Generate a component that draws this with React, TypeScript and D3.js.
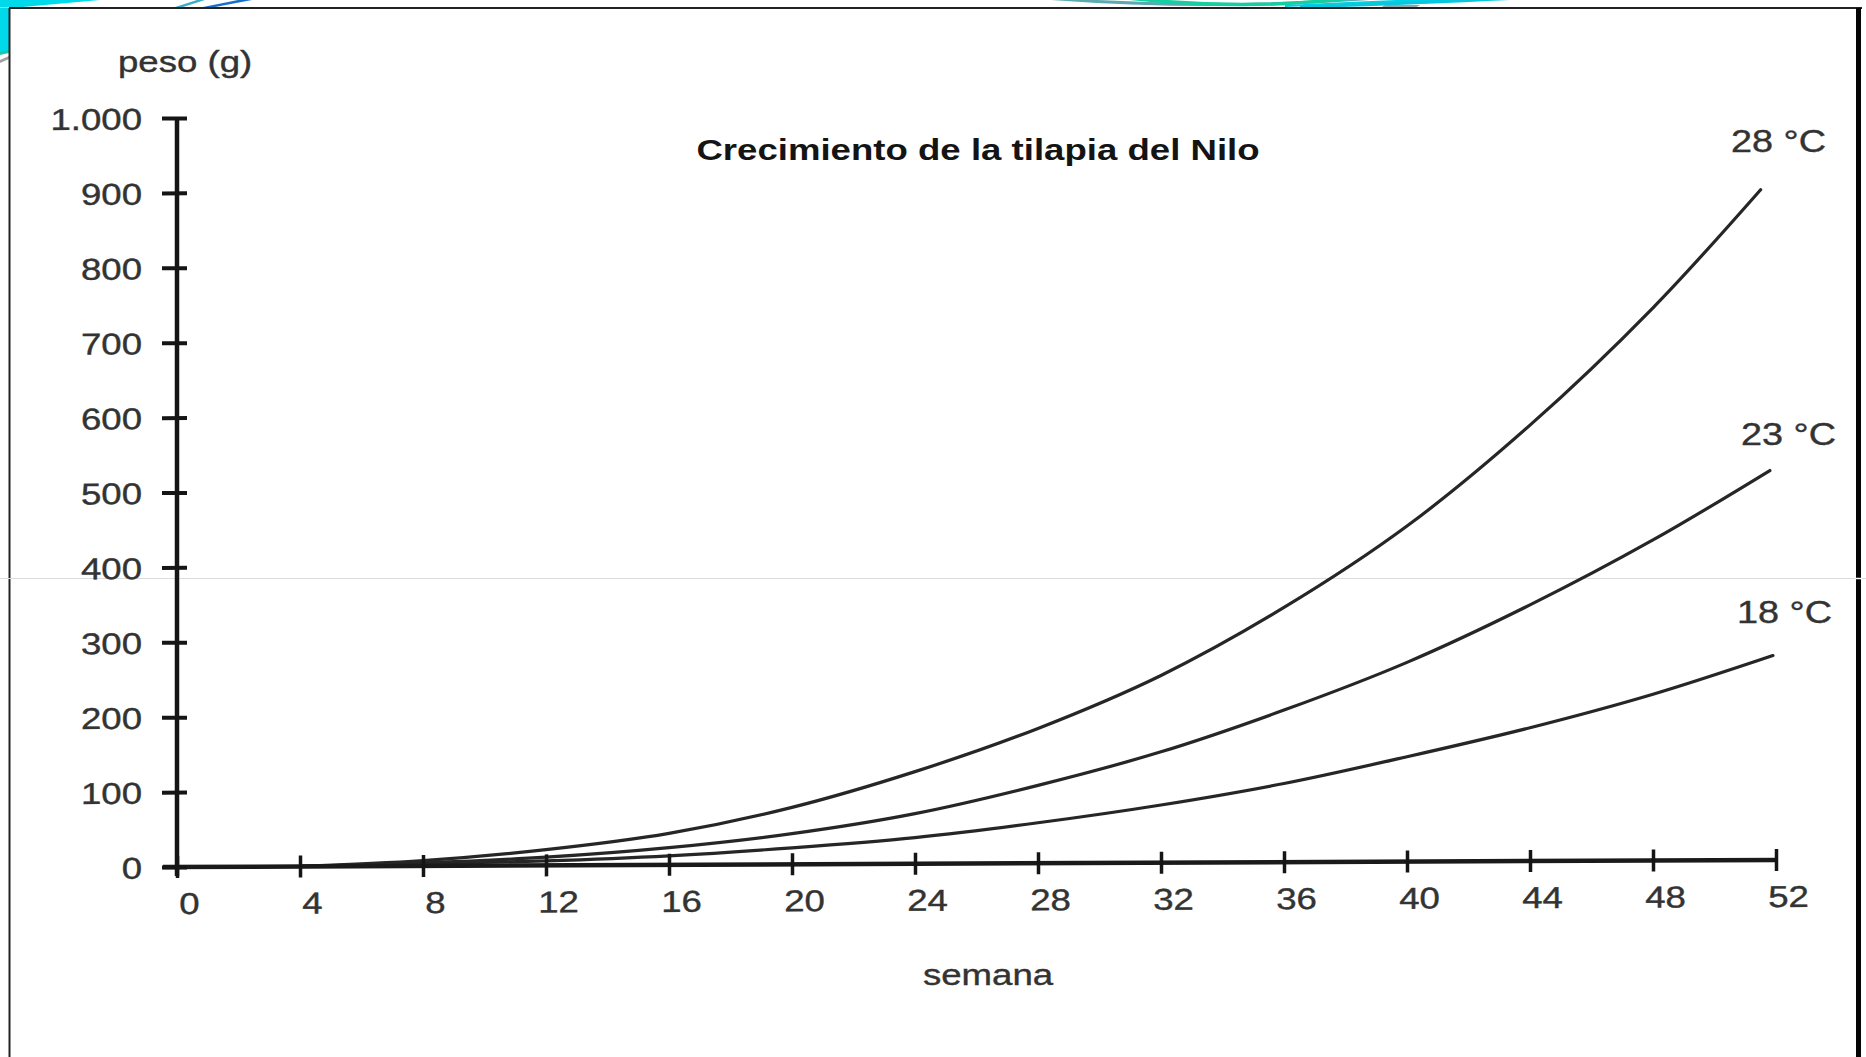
import React, { useEffect, useRef } from "react";
import * as d3 from "d3";

// ---- data ----
const semanas = [4, 8, 12, 16, 20, 24, 28, 32, 36, 40, 44, 48];
const peso28 = [0, 7, 21, 42, 76, 123, 180, 250, 340, 448, 582, 738];
const peso23 = [0, 4, 11, 23, 41, 67, 104, 148, 203, 266, 342, 428];
const peso18 = [0, 3, 6, 12, 22, 35, 54, 77, 105, 140, 178, 222];
const finSemana = [51.5, 51.8, 51.9];
const finPeso = [895, 520, 273];
const etiquetas = ["28 °C", "23 °C", "18 °C"];
const xTicks = [0, 4, 8, 12, 16, 20, 24, 28, 32, 36, 40, 44, 48, 52];
const yTicks = [0, 100, 200, 300, 400, 500, 600, 700, 800, 900, 1000];
const titulo = "Crecimiento de la tilapia del Nilo";
const ejeY = "peso (g)";
const ejeX = "semana";

const W = 1866;
const H = 1057;
const FONT = "'Liberation Sans', Arial, Helvetica, sans-serif";
const SX = 1.22;

const locale = d3.formatLocale({ decimal: ",", thousands: ".", grouping: [3], currency: ["", ""] });
const fmt = locale.format(",");

export default function App() {
  const xRef = useRef<SVGGElement>(null);
  const yRef = useRef<SVGGElement>(null);

  const x = d3.scaleLinear().domain([0, 52]).range([177, 1776]);
  const y = d3.scaleLinear().domain([0, 1000]).range([867, 118]);

  const seriesVals = [peso28, peso23, peso18];
  const lines = seriesVals.map((vals, i) => {
    const pts: [number, number][] = semanas.map((s, j) => [s, vals[j]]);
    pts.push([finSemana[i], finPeso[i]]);
    return pts;
  });
  const lineGen = d3
    .line<[number, number]>()
    .x((d) => x(d[0]))
    .y((d) => y(d[1]))
    .curve(d3.curveCatmullRom.alpha(0.5));

  useEffect(() => {
    const gy = d3.select(yRef.current!);
    gy.selectAll("*").remove();
    gy.attr("transform", `translate(${x(0)},0)`)
      .call(d3.axisLeft(y).tickValues(yTicks).tickFormat((d: any) => fmt(d)).tickSizeOuter(0).tickSizeInner(15) as any);
    gy.attr("font-size", null).attr("font-family", null);
    gy.select(".domain").remove();
    gy.append("line")
      .attr("x1", 0).attr("x2", 0)
      .attr("y1", y(1000) - 1).attr("y2", y(0) + 9)
      .attr("stroke", "#151515").attr("stroke-width", 4.5);
    gy.selectAll(".tick line")
      .attr("x1", -15).attr("x2", 10)
      .attr("stroke", "#151515").attr("stroke-width", 4);
    gy.selectAll(".tick text")
      .attr("x", null).attr("dy", null)
      .attr("transform", `translate(-35,11) scale(${SX},1)`)
      .attr("text-anchor", "end")
      .attr("fill", "#333")
      .attr("stroke", "#333")
      .attr("stroke-width", 0.4)
      .style("font-size", "30px")
      .style("font-family", FONT);

    const gx = d3.select(xRef.current!);
    gx.selectAll("*").remove();
    gx.attr("transform", `translate(0,${y(0)})`)
      .call(d3.axisBottom(x).tickValues(xTicks).tickFormat((d: any) => String(d)).tickSizeOuter(0) as any);
    gx.attr("font-size", null).attr("font-family", null);
    gx.select(".domain").remove();
    gx.insert("line", ":first-child")
      .attr("x1", x(0) - 14).attr("x2", x(52) + 2)
      .attr("y1", 0).attr("y2", 0)
      .attr("stroke", "#1a1a1a").attr("stroke-width", 4.5);
    gx.selectAll(".tick line")
      .attr("y1", -11).attr("y2", 11)
      .attr("stroke", "#151515").attr("stroke-width", 3.5);
    gx.selectAll(".tick text")
      .attr("y", null).attr("dy", null)
      .attr("transform", `translate(12,47) scale(${SX},1)`)
      .attr("text-anchor", "middle")
      .attr("fill", "#333")
      .attr("stroke", "#333")
      .attr("stroke-width", 0.4)
      .style("font-size", "30px")
      .style("font-family", FONT);
  }, []);

  const labelPos = [
    { tx: 1731, ty: 152 },
    { tx: 1741, ty: 445 },
    { tx: 1737, ty: 623 },
  ];

  const stretched = (tx: number, ty: number) => `translate(${tx},${ty}) scale(${SX},1)`;

  return (
    <svg
      width={W}
      height={H}
      viewBox={`0 0 ${W} ${H}`}
      style={{ position: "absolute", left: 0, top: 0, display: "block", background: "#fff" }}
    >
      <defs>
        <clipPath id="topStrip">
          <rect x={0} y={0} width={W} height={7.5} />
        </clipPath>
      </defs>
      <rect x={0} y={0} width={W} height={H} fill="#ffffff" />

      {/* decorative swooshes above the frame */}
      <g clipPath="url(#topStrip)">
        <path d="M0,0 L100,0 L12,8 L0,8 Z" fill="#00d9ea" />
        <path d="M172,8 L180,8 L205,0 L197,0 Z" fill="#3aaec8" />
        <path d="M198,8 L210,8 L252,0 L238,0 Z" fill="#1670c8" />
        <path d="M1000,-6 Q1200,14 1400,-4" fill="none" stroke="#5aaab0" strokeWidth={3} />
        <path d="M1110,-4 Q1240,12 1350,-2" fill="none" stroke="#14d0a0" strokeWidth={3.5} />
        <path d="M1285,7 Q1400,2 1525,-1 L1525,-4 Q1400,-1 1285,5 Z" fill="#00cfe6" />
        <path d="M1380,8 L1415,8 L1420,5 L1385,5 Z" fill="#9aa4a8" />
        <path d="M1300,7 Q1420,3 1520,-2" fill="none" stroke="#0ac6dc" strokeWidth={3} />
      </g>
      <rect x={0} y={8} width={9} height={44} fill="#00d9ea" />
      <path d="M0,52 L9,50 L9,53 L0,55 Z" fill="#1cc8a8" />
      <path d="M0,60 L9,56 L9,59 L0,63 Z" fill="#a0a0a0" />

      {/* frame */}
      <line x1={9} x2={1862} y1={8} y2={8} stroke="#222" strokeWidth={2} />
      <line x1={9.5} x2={9.5} y1={8} y2={H} stroke="#222" strokeWidth={2} />
      <line x1={1858.5} x2={1858.5} y1={8} y2={H} stroke="#050505" strokeWidth={5} />
      <line x1={0} x2={W} y1={578.5} y2={578.5} stroke="#dcdcdc" strokeWidth={1} />
      <line x1={1855} x2={1862} y1={578.5} y2={578.5} stroke="#ffffff" strokeWidth={1.5} />

      {/* plot (slightly skewed like the scan) */}
      <g transform={`translate(177,0) skewY(-0.251) translate(-177,0)`}>
        {lines.map((pts, i) => (
          <path key={i} d={lineGen(pts) || ""} fill="none" stroke="#262626" strokeWidth={3.2} strokeLinecap="round" />
        ))}
        <g ref={xRef} />
        <g ref={yRef} />
      </g>

      {/* texts */}
      <text
        transform={stretched(978, 160)}
        textAnchor="middle"
        fontFamily={FONT}
        fontWeight="bold"
        fontSize={30}
        fill="#141414"
      >
        {titulo}
      </text>
      <text transform={stretched(118, 72)} fontFamily={FONT} fontSize={30} fill="#333" stroke="#333" strokeWidth={0.4}>
        {ejeY}
      </text>
      <text transform={stretched(988, 985)} textAnchor="middle" fontFamily={FONT} fontSize={30} fill="#333" stroke="#333" strokeWidth={0.4}>
        {ejeX}
      </text>
      {etiquetas.map((t, i) => (
        <text
          key={t}
          transform={stretched(labelPos[i].tx, labelPos[i].ty)}
          fontFamily={FONT}
          fontSize={31}
          fill="#333"
          stroke="#333"
          strokeWidth={0.4}
        >
          {t}
        </text>
      ))}
    </svg>
  );
}
